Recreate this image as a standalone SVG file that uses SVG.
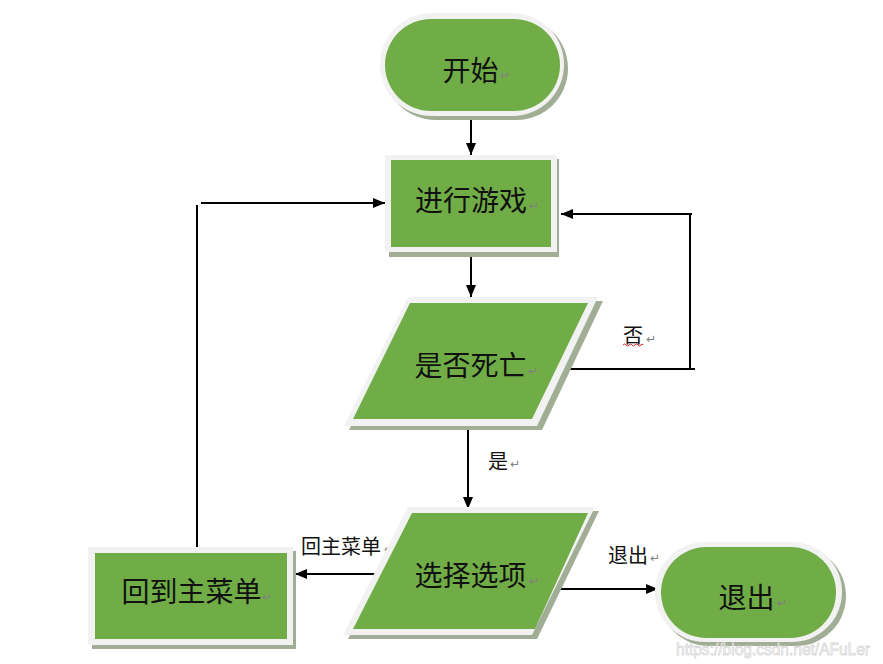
<svg xmlns="http://www.w3.org/2000/svg" width="883" height="664" viewBox="0 0 883 664">
<style>
.rim{fill:#f2f2f2}
.shd{fill:#a2ad96}
.grn{fill:#70ad47}
.t{font-family:"Noto Sans CJK SC","Noto Sans CJK JP",sans-serif;font-size:28px;fill:#111;text-anchor:middle}
.l{font-family:"Noto Sans CJK SC","Noto Sans CJK JP",sans-serif;font-size:20px;fill:#111;text-anchor:middle}
.p{font-family:"DejaVu Sans",sans-serif;font-size:12px;fill:#808080}
.c{stroke:#000;stroke-width:2;fill:none}
</style>
<defs>
<marker id="ah" viewBox="0 0 12 10" refX="12" refY="5" markerWidth="12" markerHeight="10" markerUnits="userSpaceOnUse" orient="auto">
<path d="M0,0 L12,5 L0,10 Z" fill="#000"/>
</marker>
</defs>
<rect width="883" height="664" fill="#fff"/>

<g id="connectors">
<path class="c" d="M471,117 V155" marker-end="url(#ah)"/>
<path class="c" d="M471,255 V297" marker-end="url(#ah)"/>
<path class="c" d="M566,369 H695"/>
<path class="c" d="M690,369 V213"/>
<path class="c" d="M692,214 H561" marker-end="url(#ah)"/>
<path class="c" d="M468,428 V509" marker-end="url(#ah)"/>
<path class="c" d="M375,574 H295" marker-end="url(#ah)"/>
<path class="c" d="M558,589 H658" marker-end="url(#ah)"/>
<path class="c" d="M197,548 V205"/>
<path class="c" d="M201,203 H385" marker-end="url(#ah)"/>
<text class="l" x="633" y="343">否</text>
<path d="M623,345 q1.5,-2 3,0 t3,0 t3,0 t3,0 t3,0 t3,0 t2,0" stroke="#e02020" stroke-width="1" fill="none"/>
<text class="p" x="646" y="343">↵</text>
<text class="l" x="498" y="469">是</text>
<text class="p" x="510" y="468">↵</text>
<text class="l" x="341" y="554">回主菜单</text>
<text class="p" x="384" y="553">↵</text>
<text class="l" x="628" y="563">退出</text>
<text class="p" x="650" y="562">↵</text>
</g>

<g id="start">
<rect class="shd" x="384" y="17" width="184" height="103" rx="51.5"/>
<rect class="rim" x="380" y="13" width="184" height="103" rx="51.5"/>
<rect class="grn" x="385" y="19" width="175" height="92" rx="46"/>
<text class="t" x="470.5" y="81">开始</text>
<text class="p" x="500" y="79">↵</text>
</g>

<g id="play">
<rect class="shd" x="389" y="159" width="170" height="98"/>
<rect class="rim" x="385" y="155" width="172" height="97"/>
<rect class="grn" x="391" y="160" width="160" height="87"/>
<text class="t" x="471" y="211">进行游戏</text>
<text class="p" x="529" y="210">↵</text>
</g>

<g id="dead">
<polygon class="shd" points="413,301 603,301 542,430 349,430"/>
<polygon class="rim" points="408,297 598,297 537,426 344,426"/>
<polygon class="grn" points="410,303 588,303 532,419 353,419"/>
<text class="t" x="470.5" y="376">是否死亡</text>
<text class="p" x="528" y="375">↵</text>
</g>

<g id="choose">
<polygon class="shd" points="413,511 599,511 537,639 348,639"/>
<polygon class="rim" points="408,507 595,507 532,635 343,635"/>
<polygon class="grn" points="412,513 588,513 535,629 353,629"/>
<text class="t" x="470.5" y="586">选择选项</text>
<text class="p" x="529" y="585">↵</text>
</g>

<g id="menu">
<rect class="shd" x="92" y="551" width="204" height="98"/>
<rect class="rim" x="88" y="547" width="205" height="98"/>
<rect class="grn" x="95" y="553" width="192" height="86"/>
<text class="t" x="191.5" y="602">回到主菜单</text>
<text class="p" x="262" y="601">↵</text>
</g>

<g id="quit">
<rect class="shd" x="659" y="546" width="187" height="100" rx="50"/>
<rect class="rim" x="655" y="542" width="187" height="100" rx="50"/>
<rect class="grn" x="661" y="547" width="175" height="91" rx="45.5"/>
<text class="t" x="746.5" y="608">退出</text>
<text class="p" x="777" y="607">↵</text>
</g>

<text x="676" y="655" font-family="Liberation Sans, sans-serif" font-size="16" textLength="194" lengthAdjust="spacingAndGlyphs" fill="#ffffff" stroke="#d8d8d8" stroke-width="0.8" fill-opacity="0.6">https://blog.csdn.net/AFuLer</text>
</svg>
